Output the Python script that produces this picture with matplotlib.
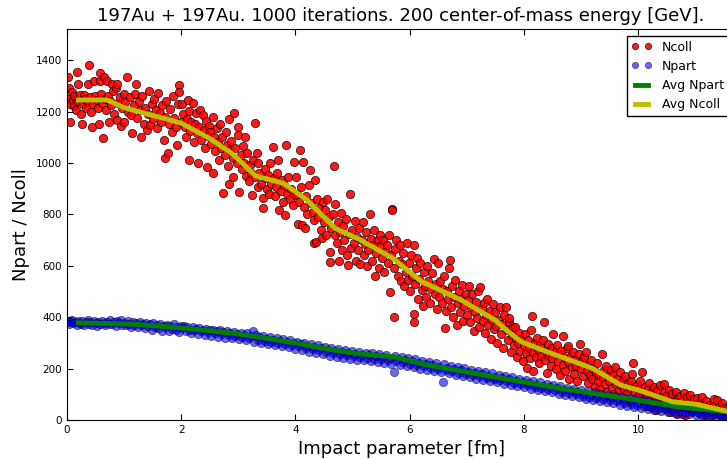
import numpy as np
import matplotlib
matplotlib.use("Agg")
import matplotlib.pyplot as plt

# Ncoll per event: (impact parameter [fm], Ncoll)
ncoll_points = [
    (0.02, 1335), (0.03, 1290), (0.04, 1250), (0.05, 1230), (0.06, 1160), (0.08, 1275), (0.1, 1245),
    (0.12, 1220), (0.13, 1260), (0.15, 1205), (0.18, 1355), (0.19, 1309), (0.2, 1240), (0.22, 1265),
    (0.24, 1190), (0.26, 1151), (0.28, 1228), (0.29, 1266), (0.31, 1250), (0.33, 1212), (0.36, 1240),
    (0.37, 1309), (0.39, 1381), (0.4, 1255), (0.42, 1200), (0.44, 1141), (0.46, 1230), (0.47, 1317),
    (0.49, 1262), (0.52, 1245), (0.54, 1215), (0.56, 1151), (0.57, 1351), (0.58, 1317), (0.6, 1270),
    (0.62, 1232), (0.63, 1096), (0.64, 1335), (0.66, 1250), (0.68, 1205), (0.7, 1320), (0.72, 1260),
    (0.73, 1160), (0.75, 1240), (0.77, 1225), (0.79, 1309), (0.81, 1280), (0.83, 1190), (0.85, 1290),
    (0.87, 1167), (0.88, 1309), (0.9, 1235), (0.92, 1255), (0.95, 1143), (0.97, 1215), (0.99, 1270),
    (1.0, 1160), (1.02, 1238), (1.05, 1334), (1.07, 1200), (1.1, 1255), (1.12, 1185), (1.14, 1115),
    (1.17, 1225), (1.19, 1270), (1.21, 1306), (1.23, 1175), (1.26, 1240), (1.28, 1205), (1.3, 1099),
    (1.32, 1260), (1.35, 1150), (1.37, 1215), (1.4, 1128), (1.42, 1190), (1.44, 1280), (1.46, 1147),
    (1.48, 1230), (1.5, 1170), (1.53, 1250), (1.55, 1205), (1.58, 1135), (1.6, 1273), (1.62, 1195),
    (1.65, 1160), (1.67, 1225), (1.69, 1089), (1.71, 1180), (1.72, 1018), (1.74, 1240), (1.76, 1037),
    (1.78, 1150), (1.8, 1210), (1.83, 1120), (1.85, 1260), (1.87, 1175), (1.9, 1140), (1.93, 1070),
    (1.95, 1230), (1.96, 1303), (1.97, 1277), (1.99, 1160),
    (2.02, 1230), (2.04, 1190), (2.06, 1140), (2.08, 1100), (2.1, 1170), (2.12, 1245), (2.13, 1011),
    (2.14, 1202), (2.16, 1125), (2.18, 1160), (2.2, 1232), (2.22, 1080), (2.24, 1150), (2.26, 1195),
    (2.28, 1115), (2.3, 998), (2.32, 1140), (2.33, 1206), (2.35, 1090), (2.38, 1185), (2.4, 1130),
    (2.42, 1060), (2.44, 1165), (2.45, 985), (2.47, 1105), (2.49, 1145), (2.51, 1120), (2.53, 1075),
    (2.55, 1180), (2.56, 960), (2.58, 1100), (2.6, 1045), (2.62, 1135), (2.64, 1080), (2.66, 1010),
    (2.68, 1150), (2.7, 1060), (2.72, 1100), (2.74, 882), (2.76, 1030), (2.78, 1120), (2.8, 1070),
    (2.82, 990), (2.83, 1171), (2.84, 920), (2.86, 1050), (2.88, 1085), (2.9, 1020), (2.91, 946),
    (2.93, 1193), (2.95, 1060), (2.97, 1000), (2.99, 1110),
    (3.0, 1141), (3.02, 888), (3.04, 1030), (3.06, 975), (3.08, 1065), (3.1, 1000), (3.12, 1102),
    (3.14, 950), (3.16, 1040), (3.18, 930), (3.2, 992), (3.22, 960), (3.24, 875), (3.26, 1010),
    (3.29, 1154), (3.3, 945), (3.32, 1037), (3.34, 905), (3.35, 998), (3.37, 960), (3.4, 920),
    (3.43, 862), (3.44, 823), (3.46, 975), (3.48, 940), (3.5, 900), (3.52, 955), (3.54, 880),
    (3.56, 1000), (3.58, 920), (3.6, 1063), (3.62, 940), (3.64, 870), (3.66, 905), (3.68, 960),
    (3.7, 1011), (3.72, 817), (3.74, 890), (3.76, 935), (3.78, 850), (3.8, 915), (3.82, 797),
    (3.83, 1070), (3.85, 880), (3.87, 945), (3.9, 860), (3.92, 900), (3.95, 835), (3.97, 1005),
    (3.99, 875),
    (4.01, 946), (4.03, 880), (4.05, 761), (4.06, 850), (4.08, 1050), (4.1, 905), (4.11, 758),
    (4.13, 1002), (4.15, 830), (4.17, 746), (4.19, 870), (4.21, 800), (4.23, 915), (4.26, 972),
    (4.28, 845), (4.3, 810), (4.32, 687), (4.33, 778), (4.35, 933), (4.36, 694), (4.38, 860),
    (4.4, 790), (4.42, 825), (4.44, 740), (4.46, 707), (4.48, 850), (4.5, 770), (4.52, 815),
    (4.54, 720), (4.56, 860), (4.58, 790), (4.6, 613), (4.61, 655), (4.63, 745), (4.65, 800),
    (4.67, 989), (4.69, 720), (4.7, 840), (4.72, 690), (4.74, 770), (4.77, 618), (4.78, 730),
    (4.8, 805), (4.82, 660), (4.84, 755), (4.86, 700), (4.88, 780), (4.9, 640), (4.93, 603),
    (4.94, 725), (4.96, 878), (4.98, 670),
    (5.0, 740), (5.02, 690), (5.04, 775), (5.06, 620), (5.08, 710), (5.1, 660), (5.12, 745),
    (5.14, 605), (5.16, 700), (5.18, 770), (5.2, 640), (5.22, 685), (5.24, 730), (5.26, 600),
    (5.28, 660), (5.31, 800), (5.32, 705), (5.34, 620), (5.36, 680), (5.38, 740), (5.4, 560),
    (5.42, 650), (5.44, 700), (5.46, 590), (5.48, 720), (5.5, 680), (5.52, 630), (5.54, 700),
    (5.56, 575), (5.58, 655), (5.6, 681), (5.62, 610), (5.64, 720), (5.66, 499), (5.68, 640),
    (5.69, 821), (5.7, 817), (5.72, 402), (5.73, 590), (5.75, 665), (5.77, 700), (5.79, 560),
    (5.81, 620), (5.83, 680), (5.85, 540), (5.87, 605), (5.89, 650), (5.91, 520), (5.93, 575),
    (5.95, 690), (5.97, 545), (5.99, 610),
    (6.01, 500), (6.03, 640), (6.05, 560), (6.07, 382), (6.07, 411), (6.08, 681), (6.1, 530),
    (6.12, 590), (6.13, 629), (6.15, 470), (6.17, 550), (6.19, 610), (6.21, 505), (6.23, 445),
    (6.25, 575), (6.27, 520), (6.29, 480), (6.31, 600), (6.33, 540), (6.35, 455), (6.37, 510),
    (6.39, 570), (6.42, 626), (6.44, 490), (6.46, 530), (6.48, 430), (6.5, 610), (6.52, 480),
    (6.54, 540), (6.56, 455), (6.58, 510), (6.6, 560), (6.62, 359), (6.63, 425), (6.65, 500),
    (6.67, 470), (6.69, 590), (6.7, 621), (6.72, 440), (6.74, 520), (6.76, 400), (6.78, 480),
    (6.8, 545), (6.83, 370), (6.84, 455), (6.86, 500), (6.88, 420), (6.9, 470), (6.92, 525),
    (6.94, 385), (6.96, 445), (6.98, 490),
    (7.0, 410), (7.02, 465), (7.04, 520), (7.06, 380), (7.08, 440), (7.1, 490), (7.12, 345),
    (7.14, 420), (7.16, 460), (7.18, 395), (7.2, 500), (7.22, 360), (7.24, 518), (7.26, 430),
    (7.28, 385), (7.3, 455), (7.32, 340), (7.34, 410), (7.36, 470), (7.38, 370), (7.4, 425),
    (7.42, 315), (7.44, 390), (7.46, 450), (7.48, 355), (7.5, 420), (7.52, 365), (7.54, 300),
    (7.56, 390), (7.58, 440), (7.6, 335), (7.62, 375), (7.64, 280), (7.66, 410), (7.69, 441),
    (7.7, 350), (7.72, 310), (7.74, 380), (7.75, 395), (7.77, 265), (7.79, 330), (7.81, 360),
    (7.83, 290), (7.85, 363), (7.86, 320), (7.88, 245), (7.9, 300), (7.92, 340), (7.94, 270),
    (7.96, 315), (7.98, 230),
    (8.0, 290), (8.02, 335), (8.04, 260), (8.05, 203), (8.07, 310), (8.09, 280), (8.11, 240),
    (8.13, 350), (8.14, 406), (8.16, 265), (8.17, 190), (8.19, 300), (8.21, 245), (8.23, 320),
    (8.25, 275), (8.27, 220), (8.29, 290), (8.31, 250), (8.33, 310), (8.35, 382), (8.37, 235),
    (8.39, 270), (8.41, 182), (8.43, 295), (8.45, 250), (8.47, 210), (8.49, 280), (8.5, 240),
    (8.52, 334), (8.54, 265), (8.56, 200), (8.58, 290), (8.6, 230), (8.62, 255), (8.64, 175),
    (8.66, 270), (8.68, 215), (8.69, 327), (8.71, 245), (8.73, 190), (8.75, 280), (8.77, 225),
    (8.78, 289), (8.8, 160), (8.82, 250), (8.84, 205), (8.86, 265), (8.88, 180), (8.9, 235),
    (8.92, 210), (8.94, 150), (8.96, 255), (8.99, 294),
    (9.0, 200), (9.02, 230), (9.04, 170), (9.06, 245), (9.09, 263), (9.1, 190), (9.12, 145),
    (9.14, 215), (9.16, 175), (9.18, 235), (9.2, 160), (9.22, 200), (9.24, 130), (9.26, 185),
    (9.28, 220), (9.3, 150), (9.32, 175), (9.34, 120), (9.37, 255), (9.38, 165), (9.4, 195),
    (9.42, 140), (9.44, 210), (9.46, 110), (9.48, 170), (9.5, 150), (9.52, 195), (9.54, 125),
    (9.56, 175), (9.58, 100), (9.6, 207), (9.62, 140), (9.64, 160), (9.66, 115), (9.68, 185),
    (9.7, 135), (9.72, 90), (9.74, 155), (9.76, 120), (9.78, 170), (9.8, 105), (9.82, 140),
    (9.84, 75), (9.86, 125), (9.88, 150), (9.9, 180), (9.92, 220), (9.94, 110), (9.96, 85),
    (9.98, 135),
    (10.0, 120), (10.02, 95), (10.04, 150), (10.07, 188), (10.08, 110), (10.1, 70), (10.12, 130),
    (10.14, 100), (10.16, 55), (10.18, 120), (10.2, 145), (10.22, 85), (10.24, 110), (10.26, 60),
    (10.28, 130), (10.3, 95), (10.32, 40), (10.34, 115), (10.36, 75), (10.38, 135), (10.4, 90),
    (10.42, 50), (10.45, 140), (10.46, 105), (10.48, 70), (10.5, 95), (10.52, 55), (10.54, 115),
    (10.56, 30), (10.58, 80), (10.6, 100), (10.62, 45), (10.64, 70), (10.66, 110), (10.68, 25),
    (10.7, 85), (10.72, 60), (10.74, 95), (10.76, 40), (10.78, 75), (10.8, 105), (10.82, 20),
    (10.84, 65), (10.86, 90), (10.88, 45), (10.9, 70), (10.92, 97), (10.94, 35), (10.96, 60),
    (10.98, 80), (11.0, 50), (11.03, 85), (11.05, 30), (11.08, 65), (11.1, 45), (11.13, 90),
    (11.15, 20), (11.18, 55), (11.2, 75), (11.23, 35), (11.25, 60), (11.28, 15), (11.3, 50),
    (11.33, 80), (11.35, 40), (11.38, 78), (11.4, 25), (11.43, 55), (11.45, 35), (11.48, 65),
    (11.5, 20), (11.53, 45), (11.56, 30), (11.6, 50),
]

# Npart per event: (impact parameter [fm], Npart)
npart_points = [
    (0.02, 385), (0.04, 372), (0.06, 380), (0.09, 390), (0.11, 376), (0.14, 383), (0.17, 370),
    (0.19, 387), (0.22, 379), (0.25, 374), (0.27, 384), (0.3, 369), (0.33, 381), (0.36, 388),
    (0.38, 375), (0.41, 380), (0.44, 371), (0.47, 385), (0.5, 378), (0.53, 366), (0.55, 382),
    (0.58, 374), (0.61, 386), (0.64, 377), (0.67, 369), (0.7, 383), (0.73, 375), (0.76, 388),
    (0.79, 372), (0.82, 380), (0.85, 365), (0.88, 384), (0.91, 376), (0.94, 389), (0.97, 370),
    (1.0, 379), (1.03, 368), (1.06, 385), (1.09, 374), (1.12, 362), (1.15, 381), (1.18, 370),
    (1.21, 377), (1.24, 360), (1.27, 383), (1.3, 369), (1.33, 374), (1.36, 356), (1.39, 378),
    (1.42, 367), (1.45, 372), (1.48, 352), (1.51, 376), (1.54, 363), (1.57, 370), (1.6, 358),
    (1.63, 374), (1.66, 348), (1.69, 366), (1.72, 361), (1.75, 370), (1.78, 346), (1.81, 364),
    (1.84, 355), (1.87, 372), (1.9, 350), (1.93, 362), (1.96, 341), (1.99, 367),
    (2.02, 356), (2.05, 366), (2.08, 345), (2.11, 360), (2.14, 352), (2.17, 338), (2.2, 362),
    (2.23, 349), (2.26, 355), (2.29, 335), (2.32, 358), (2.35, 346), (2.38, 352), (2.41, 330),
    (2.44, 355), (2.47, 341), (2.5, 349), (2.53, 328), (2.56, 352), (2.59, 338), (2.62, 345),
    (2.65, 324), (2.68, 350), (2.71, 333), (2.74, 342), (2.77, 320), (2.8, 346), (2.83, 329),
    (2.86, 338), (2.89, 318), (2.92, 344), (2.95, 326), (2.98, 334),
    (3.01, 315), (3.04, 340), (3.07, 322), (3.1, 331), (3.13, 310), (3.16, 337), (3.19, 318),
    (3.22, 326), (3.25, 345), (3.28, 305), (3.31, 330), (3.34, 313), (3.37, 321), (3.4, 300),
    (3.43, 327), (3.46, 308), (3.49, 316), (3.52, 296), (3.55, 322), (3.58, 304), (3.61, 312),
    (3.64, 292), (3.67, 318), (3.7, 300), (3.73, 308), (3.76, 286), (3.79, 314), (3.82, 295),
    (3.85, 303), (3.88, 282), (3.91, 310), (3.94, 290), (3.97, 298),
    (4.0, 278), (4.03, 305), (4.06, 286), (4.09, 294), (4.12, 272), (4.15, 300), (4.18, 281),
    (4.21, 289), (4.24, 266), (4.27, 295), (4.3, 276), (4.33, 284), (4.36, 260), (4.39, 290),
    (4.42, 271), (4.45, 279), (4.48, 255), (4.51, 285), (4.54, 266), (4.57, 274), (4.6, 250),
    (4.63, 280), (4.66, 261), (4.69, 269), (4.72, 246), (4.75, 276), (4.78, 257), (4.81, 265),
    (4.84, 242), (4.87, 272), (4.9, 252), (4.93, 260), (4.96, 238), (4.99, 268),
    (5.02, 248), (5.05, 256), (5.08, 235), (5.11, 265), (5.14, 245), (5.17, 254), (5.2, 232),
    (5.23, 262), (5.26, 242), (5.29, 251), (5.32, 228), (5.35, 259), (5.38, 239), (5.41, 248),
    (5.44, 225), (5.47, 256), (5.5, 236), (5.53, 245), (5.56, 221), (5.59, 253), (5.62, 233),
    (5.65, 241), (5.68, 218), (5.72, 188), (5.74, 249), (5.77, 229), (5.8, 237), (5.83, 214),
    (5.86, 245), (5.89, 224), (5.92, 232), (5.95, 209), (5.98, 240),
    (6.01, 219), (6.04, 228), (6.07, 205), (6.1, 236), (6.13, 214), (6.16, 223), (6.19, 200),
    (6.22, 231), (6.25, 209), (6.28, 218), (6.31, 195), (6.34, 226), (6.37, 204), (6.4, 213),
    (6.43, 190), (6.46, 221), (6.49, 199), (6.52, 208), (6.55, 186), (6.58, 149), (6.6, 216),
    (6.63, 194), (6.66, 203), (6.69, 181), (6.72, 211), (6.75, 189), (6.78, 198), (6.81, 176),
    (6.84, 206), (6.87, 184), (6.9, 193), (6.93, 171), (6.96, 201), (6.99, 180),
    (7.02, 188), (7.05, 166), (7.08, 196), (7.11, 175), (7.14, 183), (7.17, 161), (7.2, 191),
    (7.23, 170), (7.26, 178), (7.29, 156), (7.32, 186), (7.35, 165), (7.38, 173), (7.41, 151),
    (7.44, 181), (7.47, 160), (7.5, 168), (7.53, 146), (7.56, 176), (7.59, 155), (7.62, 163),
    (7.65, 141), (7.68, 171), (7.71, 150), (7.74, 158), (7.77, 136), (7.8, 166), (7.83, 145),
    (7.86, 153), (7.89, 131), (7.92, 161), (7.95, 140), (7.98, 148),
    (8.01, 127), (8.04, 156), (8.07, 135), (8.1, 143), (8.13, 122), (8.16, 151), (8.19, 130),
    (8.22, 138), (8.25, 117), (8.28, 146), (8.31, 125), (8.34, 133), (8.37, 112), (8.4, 141),
    (8.43, 120), (8.46, 128), (8.49, 107), (8.52, 136), (8.55, 115), (8.58, 123), (8.61, 102),
    (8.64, 131), (8.67, 110), (8.7, 118), (8.73, 97), (8.76, 126), (8.79, 105), (8.82, 113),
    (8.85, 92), (8.88, 121), (8.91, 100), (8.94, 108), (8.97, 88),
    (9.0, 116), (9.03, 95), (9.06, 103), (9.09, 83), (9.12, 111), (9.15, 91), (9.18, 99),
    (9.21, 78), (9.24, 107), (9.27, 86), (9.3, 94), (9.33, 74), (9.36, 102), (9.39, 82),
    (9.42, 90), (9.45, 69), (9.48, 98), (9.51, 77), (9.54, 85), (9.57, 65), (9.6, 93),
    (9.63, 73), (9.66, 81), (9.69, 60), (9.72, 89), (9.75, 68), (9.78, 76), (9.81, 56),
    (9.84, 84), (9.87, 64), (9.9, 72), (9.93, 52), (9.96, 80), (9.99, 60),
    (10.02, 68), (10.05, 48), (10.08, 76), (10.11, 56), (10.14, 64), (10.17, 44), (10.2, 72),
    (10.23, 52), (10.26, 60), (10.29, 40), (10.32, 68), (10.35, 48), (10.38, 56), (10.41, 36),
    (10.44, 64), (10.47, 44), (10.5, 52), (10.53, 32), (10.56, 60), (10.59, 40), (10.62, 48),
    (10.65, 28), (10.68, 56), (10.71, 36), (10.74, 45), (10.77, 25), (10.8, 52), (10.83, 33),
    (10.86, 41), (10.89, 22), (10.92, 48), (10.95, 30), (10.98, 38), (11.01, 20), (11.04, 45),
    (11.07, 27), (11.1, 35), (11.13, 17), (11.16, 42), (11.19, 24), (11.22, 32), (11.25, 15),
    (11.28, 38), (11.31, 22), (11.34, 30), (11.37, 13), (11.4, 35), (11.43, 19), (11.46, 27),
    (11.49, 12), (11.52, 32), (11.55, 17), (11.58, 25),
]

# binned averages
avg_ncoll_b = [0.2, 0.7, 1.0, 1.5, 2.0, 2.5, 2.9, 3.3, 3.8, 4.2, 4.7, 5.1, 5.7, 6.2, 6.9,
               7.5, 7.65, 7.95, 8.4, 9.2, 9.7, 10.1, 10.6, 11.0, 11.6]
avg_ncoll = [1245, 1245, 1215, 1185, 1155, 1095, 1035, 950, 920, 856, 745, 705, 630, 540, 467,
             389, 358, 305, 266, 201, 136, 110, 71, 62, 32]
avg_npart_b = [0.2, 1.16, 1.98, 2.92, 3.5, 4.08, 4.67, 5.14, 5.72, 6.3, 7.47, 8.64, 9.8, 10.68, 11.56]
avg_npart = [378, 373, 359, 337, 318, 296, 272, 257, 246, 214, 168, 123, 84, 52, 32]

title = "197Au + 197Au. 1000 iterations. 200 center-of-mass energy [GeV]."

b_coll, n_coll = np.array(ncoll_points).T
b_part, n_part = np.array(npart_points).T

fig = plt.figure(figsize=(7.27, 4.59), dpi=100)
ax = fig.add_axes([0.0922, 0.085, 0.9188, 0.8512])

ax.plot(b_coll, n_coll, 'o', color='r', mec='k', mew=0.5, ms=6, alpha=0.9, label='Ncoll')
ax.plot(b_part, n_part, 'o', color='b', mec='k', mew=0.5, ms=6, alpha=0.6, label='Npart')
ax.plot(avg_npart_b, avg_npart, '-', color='g', lw=3.5, label='Avg Npart')
ax.plot(avg_ncoll_b, avg_ncoll, '-', color='y', lw=3.5, label='Avg Ncoll')

ax.set_xlim(0, 11.7)
ax.set_ylim(0, 1520)
ax.set_xticks([0, 2, 4, 6, 8, 10])
ax.set_yticks(range(0, 1401, 200))
ax.tick_params(direction='in', top=True, right=True, length=4, width=0.8, labelsize=7.5)

ax.set_title(title, fontsize=13)
ax.set_xlabel('Impact parameter [fm]', fontsize=13)
ax.set_ylabel('Npart / Ncoll', fontsize=13)

leg = ax.legend(loc='upper right', numpoints=2, markerscale=0.75, fontsize=9,
                handlelength=1.6, fancybox=False, framealpha=1)
leg.get_frame().set_edgecolor('k')

fig.savefig('out.png', dpi=100)
